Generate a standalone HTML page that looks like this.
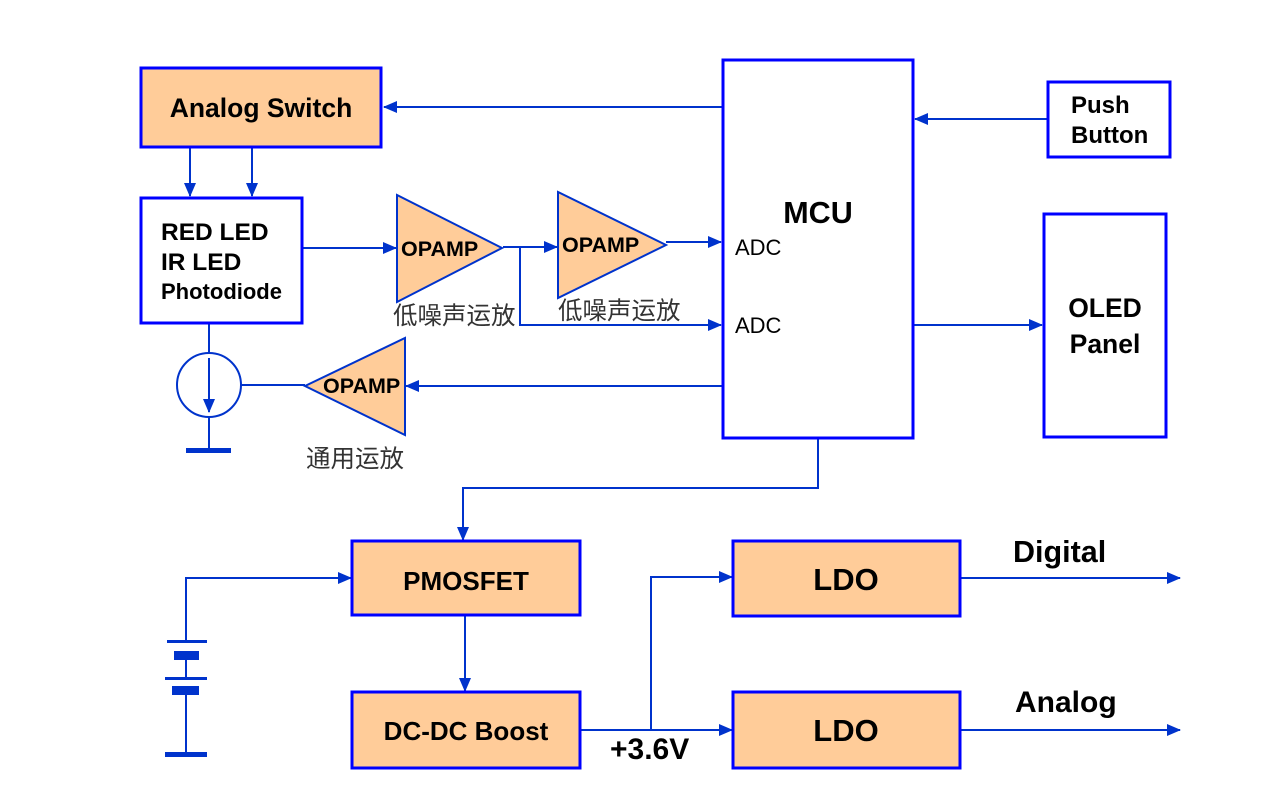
<!DOCTYPE html>
<html><head><meta charset="utf-8"><style>body{margin:0;background:#fff}svg{display:block}</style></head><body>
<svg width="1267" height="794" xmlns="http://www.w3.org/2000/svg" font-family="Liberation Sans, sans-serif">
<defs><marker id="a" markerWidth="14" markerHeight="12" refX="13" refY="6" orient="auto" markerUnits="userSpaceOnUse" viewBox="0 0 14 12"><path d="M0,0 L14,6 L0,12 z" fill="#0033CC"/></marker></defs>
<g stroke="#0033CC" stroke-width="2" fill="none">
<line x1="722" y1="107" x2="384" y2="107" marker-end="url(#a)"/>
<line x1="1048" y1="119" x2="915" y2="119" marker-end="url(#a)"/>
<line x1="190" y1="147" x2="190" y2="196" marker-end="url(#a)"/>
<line x1="252" y1="147" x2="252" y2="196" marker-end="url(#a)"/>
<line x1="302" y1="248" x2="396" y2="248" marker-end="url(#a)"/>
<line x1="503" y1="247" x2="557" y2="247" marker-end="url(#a)"/>
<polyline points="520,247 520,325 721,325" marker-end="url(#a)"/>
<line x1="666" y1="242" x2="721" y2="242" marker-end="url(#a)"/>
<line x1="722" y1="386" x2="406" y2="386" marker-end="url(#a)"/>
<line x1="305" y1="385" x2="241" y2="385"/>
<line x1="209" y1="323" x2="209" y2="353"/>
<line x1="209" y1="358" x2="209" y2="412" marker-end="url(#a)"/>
<line x1="209" y1="417" x2="209" y2="450"/>
<circle cx="209" cy="385" r="32"/>
<line x1="913" y1="325" x2="1042" y2="325" marker-end="url(#a)"/>
<polyline points="818,438 818,488 463,488 463,540" marker-end="url(#a)"/>
<polyline points="186,640 186,578 351,578" marker-end="url(#a)"/>
<line x1="465" y1="615" x2="465" y2="691" marker-end="url(#a)"/>
<line x1="580" y1="730" x2="732" y2="730" marker-end="url(#a)"/>
<polyline points="651,730 651,577 732,577" marker-end="url(#a)"/>
<line x1="960" y1="578" x2="1180" y2="578" marker-end="url(#a)"/>
<line x1="960" y1="730" x2="1180" y2="730" marker-end="url(#a)"/>
<line x1="186" y1="655" x2="186" y2="678"/>
<line x1="186" y1="690" x2="186" y2="755"/>
</g>
<g fill="#0033CC">
<rect x="186" y="448" width="45" height="5"/>
<rect x="167" y="640" width="40" height="3"/>
<rect x="174" y="651" width="25" height="9"/>
<rect x="165" y="677" width="42" height="3"/>
<rect x="172" y="686" width="27" height="9"/>
<rect x="165" y="752" width="42" height="5"/>
</g>
<g stroke="#0000FF" stroke-width="3">
<rect x="141" y="68" width="240" height="79" fill="#FFCC99"/>
<rect x="141" y="198" width="161" height="125" fill="#fff"/>
<rect x="723" y="60" width="190" height="378" fill="#fff"/>
<rect x="1048" y="82" width="122" height="75" fill="#fff"/>
<rect x="1044" y="214" width="122" height="223" fill="#fff"/>
<rect x="352" y="541" width="228" height="74" fill="#FFCC99"/>
<rect x="352" y="692" width="228" height="76" fill="#FFCC99"/>
<rect x="733" y="541" width="227" height="75" fill="#FFCC99"/>
<rect x="733" y="692" width="227" height="76" fill="#FFCC99"/>
</g>
<g stroke="#0033CC" stroke-width="2" fill="#FFCC99">
<polygon points="397,195 397,302 502,248"/>
<polygon points="558,192 558,298 666,245"/>
<polygon points="405,338 405,435 305,386"/>
</g>
<g font-weight="bold" fill="#000">
<text x="261" y="117" font-size="26.5" text-anchor="middle">Analog Switch</text>
<text x="161" y="240" font-size="24.5">RED LED</text>
<text x="161" y="270" font-size="24.5">IR LED</text>
<text x="161" y="299" font-size="22">Photodiode</text>
<text x="401" y="256" font-size="21.5">OPAMP</text>
<text x="562" y="252" font-size="21.5">OPAMP</text>
<text x="323" y="393" font-size="21.5">OPAMP</text>
<text x="818" y="223" font-size="30.5" text-anchor="middle">MCU</text>
<text x="1071" y="113" font-size="24">Push</text>
<text x="1071" y="143" font-size="24">Button</text>
<text x="1105" y="317" font-size="26.5" text-anchor="middle">OLED</text>
<text x="1105" y="353" font-size="26.5" text-anchor="middle">Panel</text>
<text x="466" y="590" font-size="26" text-anchor="middle">PMOSFET</text>
<text x="466" y="740" font-size="26" text-anchor="middle">DC-DC Boost</text>
<text x="846" y="590" font-size="31" text-anchor="middle">LDO</text>
<text x="846" y="741" font-size="31" text-anchor="middle">LDO</text>
<text x="1013" y="562" font-size="30.5">Digital</text>
<text x="1015" y="712" font-size="30">Analog</text>
<text x="610" y="759" font-size="30">+3.6V</text>
</g>
<g fill="#000" font-size="22">
<text x="735" y="255">ADC</text>
<text x="735" y="333">ADC</text>
</g>
<g fill="#333" font-size="24.5" font-family="Liberation Sans, Noto Sans CJK SC, sans-serif">
<text x="393" y="324">低噪声运放</text>
<text x="558" y="319">低噪声运放</text>
<text x="306" y="467">通用运放</text>
</g>
</svg>
</body></html>
